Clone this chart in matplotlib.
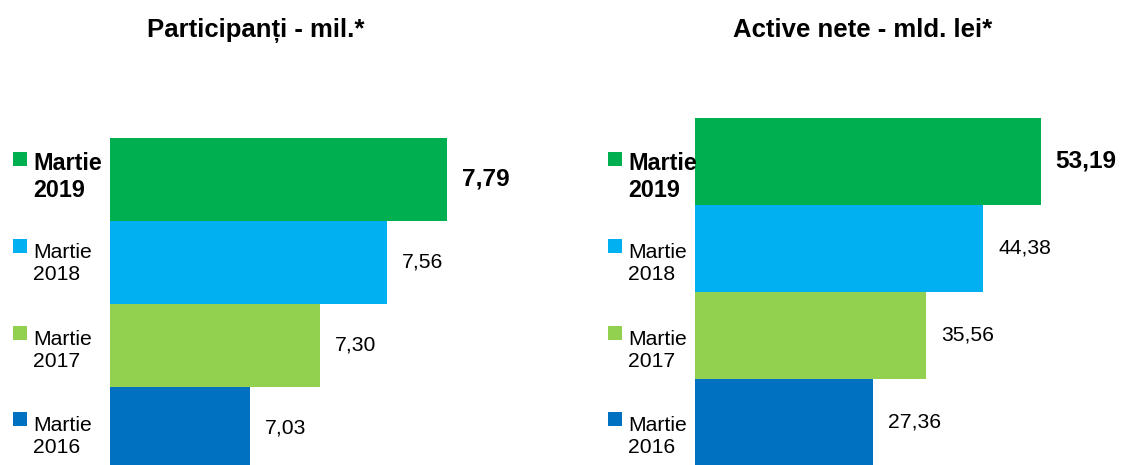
import matplotlib
matplotlib.use("Agg")
import matplotlib.pyplot as plt
from matplotlib import font_manager
from matplotlib.patches import Rectangle

# data
years = ["2016", "2017", "2018", "2019"]
labels = ["Martie\n" + y for y in years]
colors = ["#0070C0", "#92D050", "#00B0F0", "#00B050"]
participanti = [7.03, 7.30, 7.56, 7.79]
active_nete = [27.36, 35.56, 44.38, 53.19]
titles = ["Participanți - mil.*", "Active nete - mld. lei*"]

W, H = 1133, 465
installed = {f.name for f in font_manager.fontManager.ttflist}
NARROW = "Liberation Sans Narrow" if "Liberation Sans Narrow" in installed else "Liberation Sans"
TITLE_FONT = "Liberation Sans"
# the reference uses a narrow face; shrink a little when it is missing
shrink = 1.0 if NARROW == "Liberation Sans Narrow" else 0.95
bold_shrink = 1.0 if NARROW == "Liberation Sans Narrow" else 0.885


def fx(x):
    return x / W


def fy(y):
    # y measured from the top of the picture, in pixels
    return 1 - y / H


fig = plt.figure(figsize=(W / 100, H / 100), dpi=100)
fig.patch.set_facecolor("white")


def fmt(v):
    return f"{v:.2f}".replace(".", ",")


def panel(rect, values, xlim, ylim, title, title_x, legend_x):
    ax = fig.add_axes(rect)
    ypos = list(range(len(values)))
    ax.barh(ypos, values, height=1.0, color=colors, linewidth=0)
    ax.set_xlim(*xlim)
    ax.set_ylim(*ylim)
    ax.axis("off")
    last = len(values) - 1
    for i, v in enumerate(values):
        bold = i == last
        ax.annotate(fmt(v), xy=(v, i), xytext=(15, 0), textcoords="offset pixels",
                    va="center", ha="left", family=NARROW,
                    fontsize=(18.5 if bold else 16) * shrink,
                    fontweight="bold" if bold else "normal",
                    annotation_clip=False)

    # legend-like labels on the left of the bars
    for i, lab in enumerate(labels):
        k = last - i
        base = 167 + 86.8 * k          # baseline of the first line
        bold = i == last
        pitch = 30 if bold else 26     # distance to the second baseline
        fig.text(fx(legend_x + 20), fy(base + pitch), lab, ha="left", va="baseline",
                 family=NARROW, fontsize=19 * bold_shrink if bold else 16 * shrink,
                 fontweight="bold" if bold else "normal", linespacing=1.2)
        fig.add_artist(Rectangle((fx(legend_x), fy(base - 1)), 14 / W, 14 / H,
                                 transform=fig.transFigure, color=colors[i], lw=0))

    fig.text(fx(title_x), fy(37), title, ha="center", va="baseline",
             family=TITLE_FONT, fontsize=18.5, fontweight="bold")
    return ax


# left panel: axis starts near 6.49, ~259 px per unit
left_w = 440
panel([fx(110), 0, fx(left_w), 327 / H], participanti,
      (6.49, 6.49 + left_w / 259.2), (-0.44, 3.5), titles[0], 255.5, 13)

# right panel: axis starts at 0, ~6.5 px per unit
right_w = 420
panel([fx(695), 0, fx(right_w), 347 / H], active_nete,
      (0, right_w / 6.5), (-0.49, 3.5), titles[1], 863, 608)

fig.savefig("out.png", dpi=100, facecolor="white")
